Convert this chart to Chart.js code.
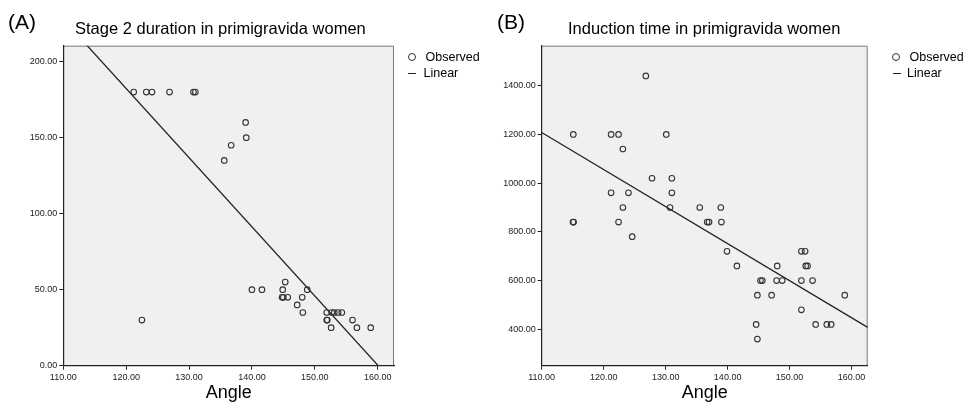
<!DOCTYPE html>
<html>
<head>
<meta charset="utf-8">
<script src="https://cdn.jsdelivr.net/npm/chart.js@4.4.1/dist/chart.umd.min.js"></script>
<style>
  body { margin: 0; background: #fff; width: 968px; height: 405px; overflow: hidden; position: relative;
         font-family: "Liberation Sans", Arial, sans-serif; color: #000; }
  canvas { position: absolute; top: 0; }
  .txt { position: absolute; white-space: nowrap; line-height: 1; }
  .tag { font-size: 21px; top: 11px; }
  .ttl { font-size: 16.5px; top: 20px; }
  .leg { font-size: 12.5px; }
  .dot { position: absolute; width: 8px; height: 8px; box-sizing: border-box; border: 1px solid #333; border-radius: 50%; }
  .dash { position: absolute; width: 8px; height: 1px; background: #222; }
</style>
</head>
<body>
<canvas id="chartA" width="484" height="405" style="left:0"></canvas>
<canvas id="chartB" width="484" height="405" style="left:484px"></canvas>

<div class="txt tag" style="left:8px">(A)</div>
<div class="txt ttl" style="left:75px">Stage 2 duration in primigravida women</div>
<span class="dot" style="left:408px;top:53px"></span>
<div class="txt leg" style="left:425.5px;top:51px">Observed</div>
<span class="dash" style="left:408px;top:73px"></span>
<div class="txt leg" style="left:423.5px;top:67px">Linear</div>

<div class="txt tag" style="left:497px">(B)</div>
<div class="txt ttl" style="left:568px">Induction time in primigravida women</div>
<span class="dot" style="left:892px;top:53px"></span>
<div class="txt leg" style="left:909.5px;top:51px">Observed</div>
<span class="dash" style="left:893px;top:73px"></span>
<div class="txt leg" style="left:907px;top:67px">Linear</div>

<script>
// (A) stage 2 duration vs angle
const stageAngle = [121.2, 123.2, 124.1, 126.9, 130.7, 131.0, 139.0, 139.1, 136.7, 135.6,
  122.5, 140.0, 141.6, 144.9, 145.3, 144.8, 145.0, 145.7, 147.2, 148.0, 148.1, 148.8,
  151.9, 151.9, 152.0, 152.6, 152.7, 153.1, 153.7, 154.3, 156.0, 156.7, 158.9];
const stageMinutes = [180, 180, 180, 180, 180, 180, 160, 150, 145, 135,
  30, 50, 50, 50, 55, 45, 45, 45, 40, 45, 35, 50,
  35, 30, 30, 25, 35, 35, 35, 35, 30, 25, 25];
const stageLineX = [110, 162.6];
const stageLineY = [227.8, -11.4];
const stageTicks = [0, 50, 100, 150, 200];

// (B) induction time vs angle
const inductionAngle = [115.05, 115.15, 115.1, 121.2, 122.4, 123.1, 121.2, 124.0, 123.1, 122.4,
  124.6, 126.8, 127.8, 130.1, 131.0, 131.0, 130.7, 135.5, 136.7, 137.0, 138.9, 139.0,
  139.9, 141.5, 144.6, 144.8, 144.8, 145.3, 145.6, 147.1, 148.0, 147.9, 148.8, 151.9,
  152.5, 151.9, 152.6, 152.9, 153.7, 151.9, 154.2, 156.0, 156.7, 158.9];
const inductionMinutes = [840, 840, 1200, 1200, 1200, 1140, 960, 960, 900, 840,
  780, 1440, 1020, 1200, 1020, 960, 900, 900, 840, 840, 900, 840,
  720, 660, 420, 360, 540, 600, 600, 540, 660, 600, 600, 720,
  720, 600, 660, 660, 600, 480, 420, 420, 420, 540];
const inductionLineX = [110, 162.6];
const inductionLineY = [1208, 408];
const inductionTicks = [400, 600, 800, 1000, 1200, 1400];

const angleTicks = [110, 120, 130, 140, 150, 160];

const fontFamily = '"Liberation Sans", Arial, sans-serif';

const plotFrame = {
  id: 'plotFrame',
  beforeDraw(chart) {
    const { ctx, chartArea: a } = chart;
    ctx.save();
    ctx.fillStyle = '#f0f0f0';
    ctx.fillRect(a.left, a.top, a.width, a.height);
    ctx.strokeStyle = '#7a7a7a';
    ctx.lineWidth = 1;
    ctx.beginPath();
    ctx.moveTo(a.left, a.top + 0.5);
    ctx.lineTo(a.right - 0.5, a.top + 0.5);
    ctx.lineTo(a.right - 0.5, a.bottom);
    ctx.stroke();
    ctx.restore();
  }
};

function pairs(xs, ys) {
  return xs.map((x, i) => ({ x: x, y: ys[i] }));
}

function makeChart(id, xs, ys, lx, ly, yTicks, yMin, yMax, yWidth, padRight) {
  return new Chart(document.getElementById(id), {
    type: 'scatter',
    data: {
      datasets: [{
        label: 'Observed',
        data: pairs(xs, ys),
        pointRadius: 2.8,
        pointBorderWidth: 1.1,
        borderColor: '#333',
        backgroundColor: 'rgba(0,0,0,0)'
      }, {
        label: 'Linear',
        data: pairs(lx, ly),
        showLine: true,
        pointRadius: 0,
        borderColor: '#222',
        borderWidth: 1.3
      }]
    },
    options: {
      responsive: false,
      animation: false,
      layout: { padding: { top: 45.7, right: padRight, bottom: 0, left: 0 } },
      plugins: { legend: { display: false }, tooltip: { enabled: false } },
      scales: {
        x: {
          type: 'linear', min: 110, max: 162.6,
          afterFit(s) { s.height = 39.3; },
          afterBuildTicks(s) { s.ticks = angleTicks.map(v => ({ value: v })); },
          ticks: { callback: v => Number(v).toFixed(2), font: { size: 9, family: fontFamily },
                   color: '#222', padding: 2, maxRotation: 0, autoSkip: false },
          grid: { drawOnChartArea: false, tickLength: 4, color: '#222' },
          border: { color: '#222', width: 1.2 },
          title: { display: true, text: 'Angle', color: '#000',
                   font: { size: 18, family: fontFamily }, padding: { top: 0, bottom: 1 } }
        },
        y: {
          type: 'linear', min: yMin, max: yMax,
          afterFit(s) { s.width = yWidth; },
          afterBuildTicks(s) { s.ticks = yTicks.map(v => ({ value: v })); },
          ticks: { callback: v => Number(v).toFixed(2), font: { size: 9, family: fontFamily },
                   color: '#222', padding: 2, autoSkip: false },
          grid: { drawOnChartArea: false, tickLength: 4, color: '#222' },
          border: { color: '#222', width: 1.2 }
        }
      }
    },
    plugins: [plotFrame]
  });
}

makeChart('chartA', stageAngle, stageMinutes, stageLineX, stageLineY, stageTicks, 0, 210.5, 63.3, 90);
makeChart('chartB', inductionAngle, inductionMinutes, inductionLineX, inductionLineY, inductionTicks, 250.6, 1564, 57.7, 100.3);
</script>
</body>
</html>
